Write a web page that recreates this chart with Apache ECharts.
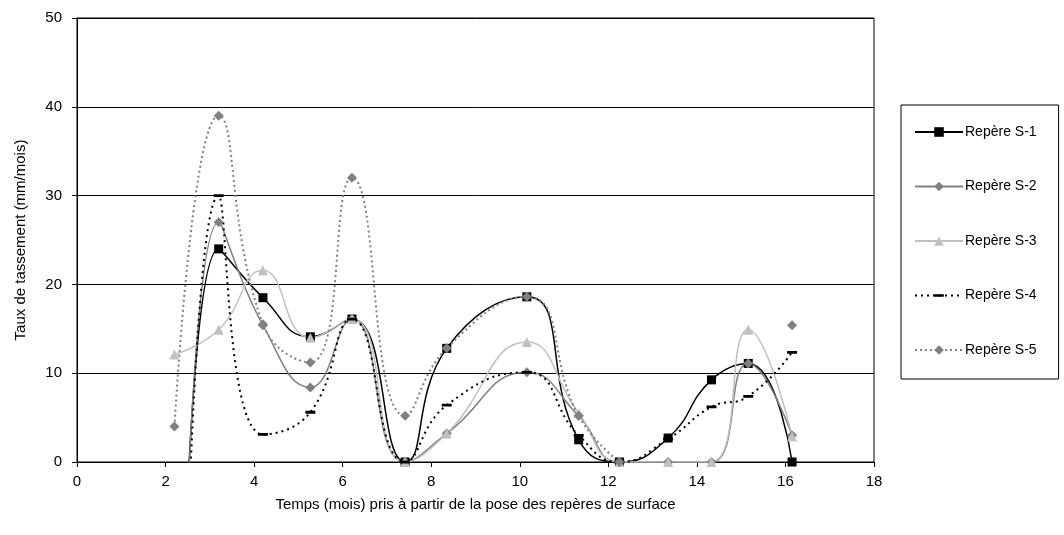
<!DOCTYPE html>
<html>
<head>
<meta charset="utf-8">
<script src="https://cdn.jsdelivr.net/npm/echarts@6/dist/echarts.min.js"></script>
<style>html,body{margin:0;padding:0;background:#fff}#c{width:1064px;height:535px}</style>
</head>
<body>
<div id="c"></div>
<script>
// Time (months) of each survey
var times = [2.2, 3.2, 4.2, 5.27, 6.21, 7.41, 8.35, 10.16, 11.33, 12.25, 13.35, 14.33, 15.16, 16.15];
// Settlement rate (mm/month); the first values of S-1, S-2, S-4 fall below the visible range
var s1 = [-70, 24, 18.5, 14.1, 16.1, 0, 12.8, 18.6, 2.5, 0, 2.7, 9.25, 11.1, 0];
var s2 = [-75, 27, 15.4, 8.4, 16.1, 0, 3.2, 10.1, 5.2, 0, 0, 0, 11.1, 3];
var s3 = [12.1, 14.9, 21.6, 14.0, 16.1, 0, 3.2, 13.5, 5.5, 0, 0, 0, 14.9, 2.9];
var s4 = [-80, 30, 3.1, 5.6, 16.1, 0, 6.4, 10.1, 3.0, 0, 2.6, 6.2, 7.4, 12.35];
var s5 = [4.0, 39, 15.5, 11.2, 32, 5.2, 12.8, 18.6, 5.2, 0, null, null, null, 15.4];
var names = ['Repère S-1', 'Repère S-2', 'Repère S-3', 'Repère S-4', 'Repère S-5'];
var xTicks = [0, 2, 4, 6, 8, 10, 12, 14, 16, 18];
var yTicks = [0, 10, 20, 30, 40, 50];

function pairs(arr) { return times.map(function (t, i) { return [t, arr[i]]; }); }
var FONT = '"Liberation Sans", Arial, sans-serif';
// horizontal dash marker inside a square box (so it keeps its shape in the legend)
var DASH = 'path://M0,0L0,0ZM0,3.6L10,3.6L10,6.4L0,6.4ZM10,10L10,10Z';

var chart = echarts.init(document.getElementById('c'), null, {renderer: 'canvas'});
chart.setOption({
  animation: false,
  backgroundColor: '#ffffff',
  grid: {left: 77, top: 18, right: 190, bottom: 73, show: true, borderColor: '#000', borderWidth: 1, outerBoundsMode: 'none', containLabel: false},
  xAxis: {
    type: 'value', min: xTicks[0], max: xTicks[xTicks.length - 1], interval: 2,
    name: 'Temps (mois) pris à partir de la pose des repères de surface',
    nameLocation: 'middle', nameGap: 35,
    nameTextStyle: {fontFamily: FONT, fontSize: 15, color: '#000'},
    axisLine: {show: true, onZero: false, lineStyle: {color: '#000', width: 1}},
    axisTick: {show: true, inside: false, length: 5, lineStyle: {color: '#000'}},
    axisLabel: {fontFamily: FONT, fontSize: 15, color: '#000', margin: 12},
    splitLine: {show: false}
  },
  yAxis: {
    type: 'value', min: yTicks[0], max: yTicks[yTicks.length - 1], interval: 10,
    name: 'Taux de tassement (mm/mois)',
    nameLocation: 'middle', nameGap: 49, nameRotate: 90,
    nameTextStyle: {fontFamily: FONT, fontSize: 15, color: '#000'},
    axisLine: {show: true, lineStyle: {color: '#000', width: 1}},
    axisTick: {show: true, inside: false, length: 5, lineStyle: {color: '#000'}},
    axisLabel: {fontFamily: FONT, fontSize: 15, color: '#000', margin: 15},
    splitLine: {show: true, lineStyle: {color: '#000', width: 1}}
  },
  legend: {
    orient: 'vertical', left: 901, top: 105,
    padding: [20, 22, 22, 13],
    itemGap: 40.5, itemWidth: 48, itemHeight: 12,
    borderColor: '#000', borderWidth: 1,
    textStyle: {fontFamily: FONT, fontSize: 14, color: '#000', padding: [0, 0, 0, -3]},
    data: names
  },
  series: [
    {name: names[0], type: 'line', smooth: 0.5, data: pairs(s1), clip: true,
      symbol: 'rect', symbolSize: 9,
      itemStyle: {color: '#000'}, lineStyle: {color: '#000', width: 1.5}},
    {name: names[1], type: 'line', smooth: 0.5, data: pairs(s2), clip: true,
      symbol: 'diamond', symbolSize: 10,
      itemStyle: {color: '#808080'}, lineStyle: {color: '#808080', width: 1.5}},
    {name: names[2], type: 'line', smooth: 0.5, data: pairs(s3), clip: true,
      symbol: 'triangle', symbolSize: 10,
      itemStyle: {color: '#c0c0c0'}, lineStyle: {color: '#c0c0c0', width: 1.5}},
    {name: names[3], type: 'line', smooth: 0.5, data: pairs(s4), clip: true,
      symbol: DASH, symbolSize: 10,
      itemStyle: {color: '#000'}, lineStyle: {color: '#000', width: 2, type: [2, 4]}},
    {name: names[4], type: 'line', smooth: 0.5, data: pairs(s5), clip: true, connectNulls: false,
      symbol: 'diamond', symbolSize: 10,
      itemStyle: {color: '#808080'}, lineStyle: {color: '#808080', width: 2, type: [2, 3]}}
  ]
});
</script>
</body>
</html>
